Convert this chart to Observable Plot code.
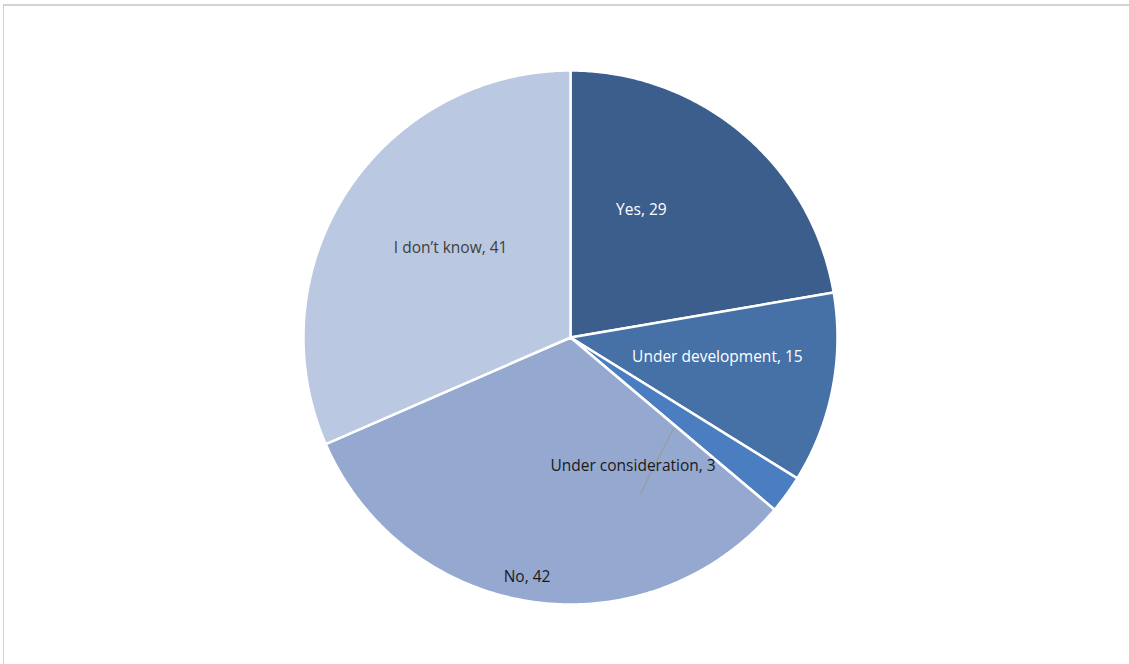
<!DOCTYPE html>
<html>
<head>
<meta charset="utf-8">
<script src="https://cdn.jsdelivr.net/npm/d3@7"></script>
<script src="https://cdn.jsdelivr.net/npm/@observablehq/plot@0.6"></script>
<style>
  html, body { margin: 0; padding: 0; background: #fff; }
  #wrap { position: relative; width: 1129px; height: 664px; overflow: hidden; }
  #topline { position: absolute; left: 3px; top: 4px; width: 1126px; height: 2px; background: #d4d4d4; }
  #leftline { position: absolute; left: 3px; top: 4px; width: 1px; height: 660px; background: #cfcfcf; }
</style>
</head>
<body>
<div id="wrap"><div id="chart"></div><div id="topline"></div><div id="leftline"></div></div>
<script>
const categories = ["Yes", "Under development", "Under consideration", "No", "I don\u2019t know"];
const values = [29, 15, 3, 42, 41];
const sliceColors = ["#3b5e8c", "#4571a7", "#4a7ec0", "#95a9d0", "#bac8e1"];
const labelColors = ["#ffffff", "#ffffff", "#1a1a1a", "#1a1a1a", "#404040"];
// label placement (style): radial fraction of radius and angle nudge in degrees
const labelRadius = [0.545, 0.555, 0.535, 0.91, 0.56];
const labelNudge = [-11, -3.5, 28, 2, 3.5];

const W = 1129, H = 664, cx = 570, cy = 337, R = 267;

const pie = d3.pie().sort(null).value(d => d.value)(categories.map((c, i) => ({cat: c, value: values[i], i})));

const slicePts = [];
for (const a of pie) {
  const n = Math.max(4, Math.ceil((a.endAngle - a.startAngle) / (Math.PI / 360)));
  slicePts.push({cat: a.data.cat, color: sliceColors[a.data.i], x: 0, y: 0});
  for (let k = 0; k <= n; k++) {
    const t = a.startAngle + (a.endAngle - a.startAngle) * k / n;
    slicePts.push({cat: a.data.cat, color: sliceColors[a.data.i], x: Math.sin(t), y: Math.cos(t)});
  }
  slicePts.push({cat: a.data.cat, color: sliceColors[a.data.i], x: 0, y: 0});
}

const labels = pie.map(a => {
  const i = a.data.i;
  const m = (a.startAngle + a.endAngle) / 2 + labelNudge[i] * Math.PI / 180;
  return {
    text: `${a.data.cat}, ${a.data.value}`,
    x: labelRadius[i] * Math.sin(m),
    y: labelRadius[i] * Math.cos(m),
    color: labelColors[i]
  };
});

// leader line for the small slice
const small = pie[2];
const sm = (small.startAngle + small.endAngle) / 2;
const leader = [
  {x: 0.515 * Math.sin(sm + 5.5 * Math.PI / 180), y: 0.515 * Math.cos(sm + 5.5 * Math.PI / 180)},
  {x: 0.64 * Math.sin(sm + 29.8 * Math.PI / 180), y: 0.64 * Math.cos(sm + 29.8 * Math.PI / 180)}
];

const plot = Plot.plot({
  width: W,
  height: H,
  margin: 0,
  x: {domain: [-cx / R, (W - cx) / R], axis: null},
  y: {domain: [-(H - cy) / R, cy / R], axis: null},
  color: {type: "identity"},
  marks: [
    Plot.line(slicePts, {x: "x", y: "y", z: "cat", fill: "color", stroke: "#ffffff", strokeWidth: 2.5, strokeLinejoin: "round", curve: "linear"}),
    Plot.line(leader, {x: "x", y: "y", stroke: "#9a9a9a", strokeWidth: 1.5, strokeOpacity: 0.8}),
    Plot.text(labels, {x: "x", y: "y", text: "text", fill: "color", fontSize: 15.5, fontFamily: "Open Sans", textAnchor: "middle", lineAnchor: "middle"})
  ]
});
document.getElementById("chart").appendChild(plot);
</script>
</body>
</html>
